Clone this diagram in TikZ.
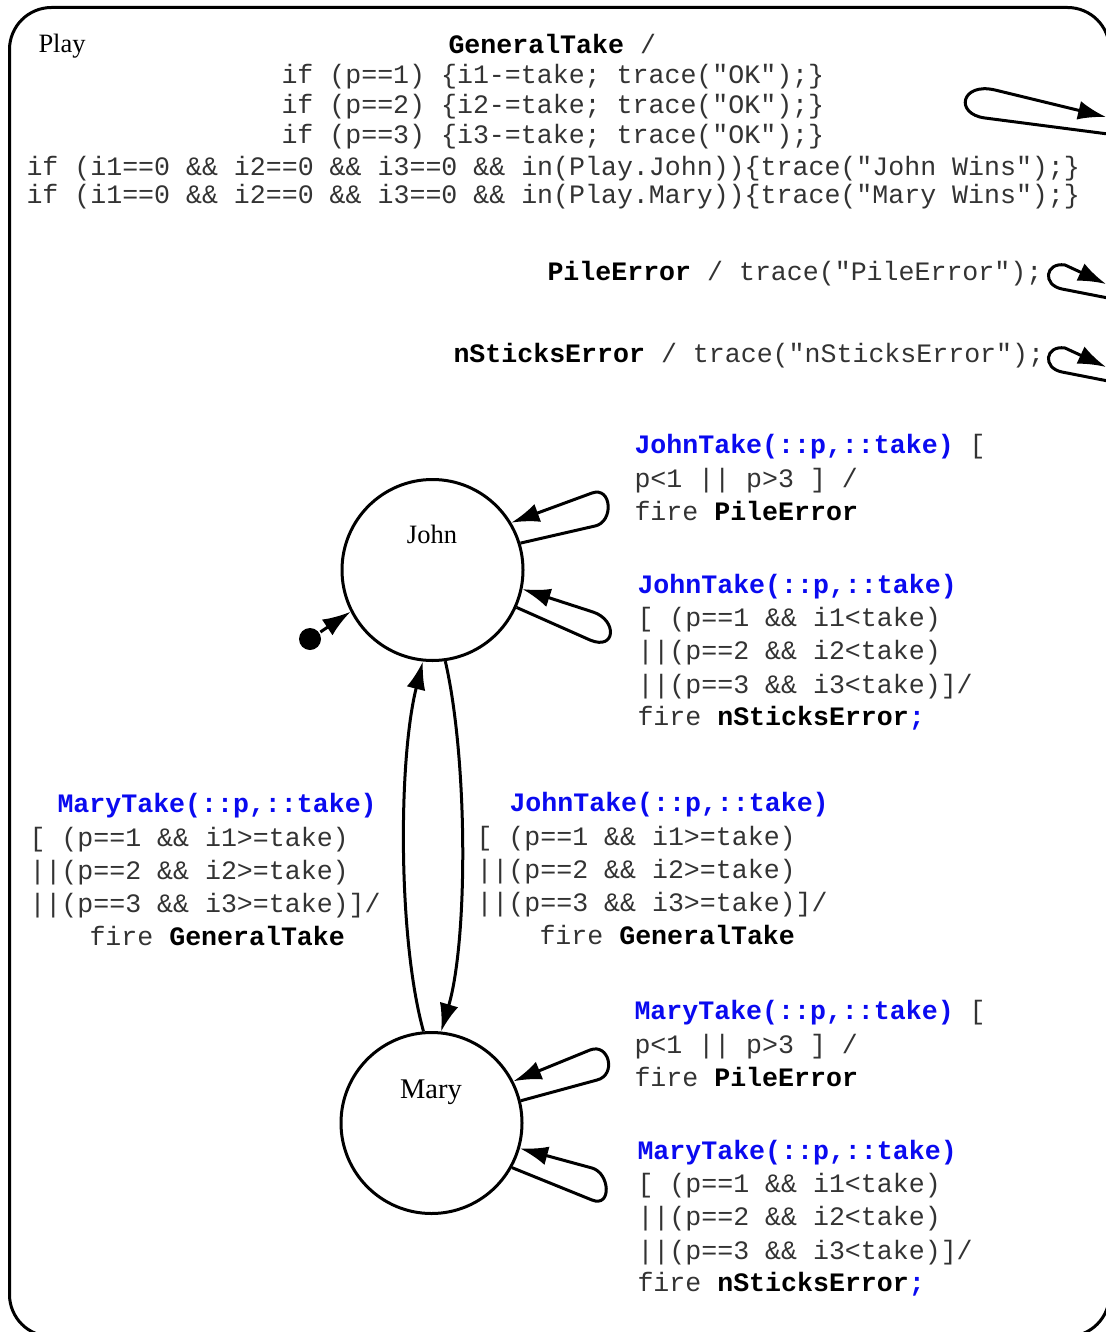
\documentclass[tikz,border=0pt]{standalone}
\usepackage{fontspec}
\setmainfont{Liberation Serif}
\newfontfamily\cour{Liberation Mono}
\usetikzlibrary{arrows.meta}
\definecolor{txt}{gray}{0.2}
\definecolor{evblue}{RGB}{10,10,240}
\newcommand\kw[1]{{\bfseries\color{black}#1}}
\newcommand\ev[1]{{\bfseries\color{evblue}#1}}
\begin{document}
\begin{tikzpicture}[x=1pt,y=-1pt,
  line width=3pt,
  arr/.style={-{Latex[length=28pt,width=19pt]}},
  code/.style={font=\cour\fontsize{26.6pt}{33pt}\selectfont, text=txt, inner sep=0pt, anchor=base west},
  sname/.style={font=\fontsize{26.5pt}{30pt}\selectfont, inner sep=0pt, anchor=base},
  state/.style={circle, draw, minimum size=181pt, inner sep=0pt},
]
\useasboundingbox (0,0) rectangle (1105,1332);
% outer state
\node[draw, rounded corners=42pt, minimum width=1100pt, minimum height=1329pt, anchor=north west, inner sep=0pt] (play) at (8,6) {};
\node[sname, anchor=base west] (playlbl) at (37,53) {Play};

% states
\node[state] (john) at (432.5,570) {};
\node[sname] (johnlbl) at (432,543) {John};
\node[state] (mary) at (431.5,1123) {};
\node[sname, font=\fontsize{28.5pt}{30pt}\selectfont] (marylbl) at (431,1098) {Mary};
\node[circle, fill, minimum size=22pt, inner sep=0pt] (init) at (310,639) {};

% transitions
\draw[arr] (init) -- (john.207.5);
\draw[arr] (john.-82) .. controls (468,760) and (468,940) .. (mary.84);
\draw[arr] (mary.95.4) .. controls (398,940) and (398,760) .. (john.-96.7);

\draw[arr] (john.17.8) -- (595,526) .. controls (614,522) and (612,486) .. (592,493) -- (john.31);
\draw[arr] (john.-24.6) -- (590,640) .. controls (616,651) and (617.5,620) .. (593,612) -- (john.-12.4);
\draw[arr] (mary.14.9) -- (597,1080) .. controls (617,1075) and (609,1042.5) .. (590,1050) -- (mary.27.8);
\draw[arr] (mary.-29) -- (592,1200) .. controls (612,1208) and (610,1173) .. (592,1168) -- (mary.-16);

% self loops of Play
\coordinate (ga1) at (1108,134); \coordinate (ga2) at (1106,117);
\coordinate (pa1) at (1108,298); \coordinate (pa2) at (1106,284);
\coordinate (na1) at (1108,381); \coordinate (na2) at (1106,367);
\draw[arr] (ga1) -- (985,118) .. controls (954,114) and (961,82) .. (995,90) -- (ga2);
\draw[arr] (pa1) -- (1062,289) .. controls (1042,285) and (1045,262) .. (1065,265) -- (pa2);
\draw[arr] (na1) -- (1062,372) .. controls (1042,368) and (1045,345) .. (1065,348) -- (na2);

% top texts
\node[code] (g0) at (447,54) {\kw{GeneralTake} /};
\node[code] (g1) at (280,84) {if (p==1) \{i1-=take; trace("OK");\}};
\node[code] (g2) at (280,114) {if (p==2) \{i2-=take; trace("OK");\}};
\node[code] (g3) at (280,144) {if (p==3) \{i3-=take; trace("OK");\}};
\node[code] (g4) at (25,176) {if (i1==0 \&\& i2==0 \&\& i3==0 \&\& in(Play.John))\{trace("John Wins");\}};
\node[code] (g5) at (25,204) {if (i1==0 \&\& i2==0 \&\& i3==0 \&\& in(Play.Mary))\{trace("Mary Wins");\}};
\node[code] (pe) at (546,280) {\kw{PileError} / trace("PileError");};
\node[code] (ns) at (452,362) {\kw{nSticksError} / trace("nSticksError");};

% John loop labels
\node[code] (j1a) at (633,453) {\ev{JohnTake(::p,::take)} [};
\node[code] (j1b) at (633,487) {p<1 || p>3 ] /};
\node[code] (j1c) at (633,520) {fire \kw{PileError}};
\node[code] (j2a) at (636,593) {\ev{JohnTake(::p,::take)}};
\node[code] (j2b) at (636,626) {[ (p==1 \&\& i1<take)};
\node[code] (j2c) at (636,659) {||(p==2 \&\& i2<take)};
\node[code] (j2d) at (636,693) {||(p==3 \&\& i3<take)]/};
\node[code] (j2e) at (636,725) {fire \kw{nSticksError}\ev{;}};

% middle labels
\node[code] (ml1) at (56,812) {\ev{MaryTake(::p,::take)}};
\node[code] (ml2) at (28,846) {[ (p==1 \&\& i1>=take)};
\node[code] (ml3) at (28,879) {||(p==2 \&\& i2>=take)};
\node[code] (ml4) at (28,912) {||(p==3 \&\& i3>=take)]/};
\node[code] (ml5) at (88,945) {fire \kw{GeneralTake}};
\node[code] (mr1) at (508,811) {\ev{JohnTake(::p,::take)}};
\node[code] (mr2) at (475,845) {[ (p==1 \&\& i1>=take)};
\node[code] (mr3) at (475,878) {||(p==2 \&\& i2>=take)};
\node[code] (mr4) at (475,911) {||(p==3 \&\& i3>=take)]/};
\node[code] (mr5) at (538,944) {fire \kw{GeneralTake}};

% Mary loop labels
\node[code] (m1a) at (633,1019) {\ev{MaryTake(::p,::take)} [};
\node[code] (m1b) at (633,1053) {p<1 || p>3 ] /};
\node[code] (m1c) at (633,1086) {fire \kw{PileError}};
\node[code] (m2a) at (636,1159) {\ev{MaryTake(::p,::take)}};
\node[code] (m2b) at (636,1192) {[ (p==1 \&\& i1<take)};
\node[code] (m2c) at (636,1225) {||(p==2 \&\& i2<take)};
\node[code] (m2d) at (636,1259) {||(p==3 \&\& i3<take)]/};
\node[code] (m2e) at (636,1291) {fire \kw{nSticksError}\ev{;}};
\end{tikzpicture}
\end{document}
